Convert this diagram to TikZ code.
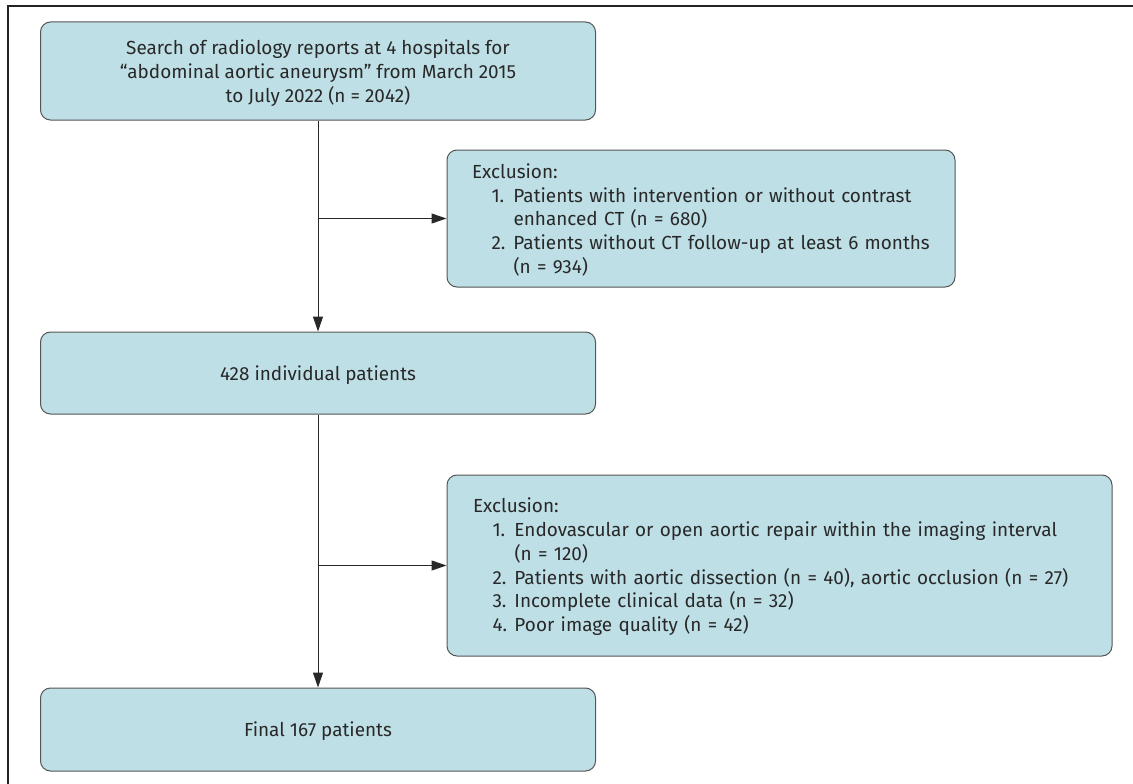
\documentclass[tikz,border=0pt]{standalone}
\usepackage{fontspec}
\setmainfont{Fira Sans}
\usetikzlibrary{arrows.meta}
\definecolor{boxfill}{RGB}{190,223,229}
\definecolor{boxline}{RGB}{85,85,85}
\definecolor{txtcol}{RGB}{40,40,40}
\definecolor{arrcol}{RGB}{40,40,40}
\definecolor{framecol}{RGB}{35,35,35}
\newsavebox\measurebox
\newdimen\measurewd
\newcommand{\itm}[1]{\hspace*{19.5pt}\makebox[22pt][l]{#1}}
\newcommand{\cont}{\hspace*{41.5pt}}
\AtBeginDocument{%
  \sbox\measurebox{\fontsize{10pt}{12pt}\selectfont 428 individual patients}%
  \global\measurewd=\wd\measurebox
  \pgfmathsetmacro\fs{10*196/\measurewd}%
  \xdef\fs{\fs}%
}
\begin{document}
\begin{tikzpicture}[x=1pt,y=-1pt]
\useasboundingbox (0,0) rectangle (1133,784);
\tikzset{
  flowbox/.style={draw=boxline, line width=1pt, fill=boxfill, rounded corners=10pt,
    inner sep=0pt, text=txtcol, font=\fontsize{\fs pt}{23.7pt}\selectfont},
  flowarrow/.style={draw=arrcol, line width=1pt, -{Triangle[length=15pt,width=10pt]}},
  frameline/.style={draw=framecol, line width=1.5pt}
}
% frame
\coordinate (ftl) at (8,6);
\coordinate (ftr) at (1133,6);
\coordinate (fbl) at (8,784);
\draw[frameline] (ftr) -- (ftl) -- (fbl);
% boxes
\node[flowbox, minimum width=555pt, minimum height=98pt, align=center] (search) at (318,71)
  {\rule{0pt}{19pt}Search of radiology reports at 4 hospitals for\\``abdominal aortic aneurysm'' from March 2015\\to July 2022 (n = 2042)};
\node[flowbox, minimum width=508pt, minimum height=137pt, text width=458pt, align=left] (excl1) at (701,218.5)
  {\rule{0pt}{17.5pt}Exclusion:\\
   \itm{1.}Patients with intervention or without contrast\\
   \cont enhanced CT (n = 680)\\
   \itm{2.}Patients without CT follow-up at least 6 months\\
   \cont (n = 934)};
\node[flowbox, minimum width=555pt, minimum height=82pt, text depth=0pt] (indiv) at (318,373) {428 individual patients};
\node[flowbox, minimum width=665pt, minimum height=181pt, text width=613pt, align=left] (excl2) at (779.5,565.5)
  {\rule{0pt}{17.5pt}Exclusion:\\
   \itm{1.}Endovascular or open aortic repair within the imaging interval\\
   \cont (n = 120)\\
   \itm{2.}Patients with aortic dissection (n = 40), aortic occlusion (n = 27)\\
   \itm{3.}Incomplete clinical data (n = 32)\\
   \itm{4.}Poor image quality (n = 42)};
\node[flowbox, minimum width=555pt, minimum height=83pt, text depth=0pt] (final) at (318,729.5) {Final 167 patients};
% connectors
\draw[flowarrow] (search.south) -- (indiv.north);
\draw[flowarrow] (search.south |- excl1.west) -- (excl1.west);
\draw[flowarrow] (indiv.south) -- (final.north);
\draw[flowarrow] (indiv.south |- excl2.west) -- (excl2.west);
\end{tikzpicture}
\end{document}
